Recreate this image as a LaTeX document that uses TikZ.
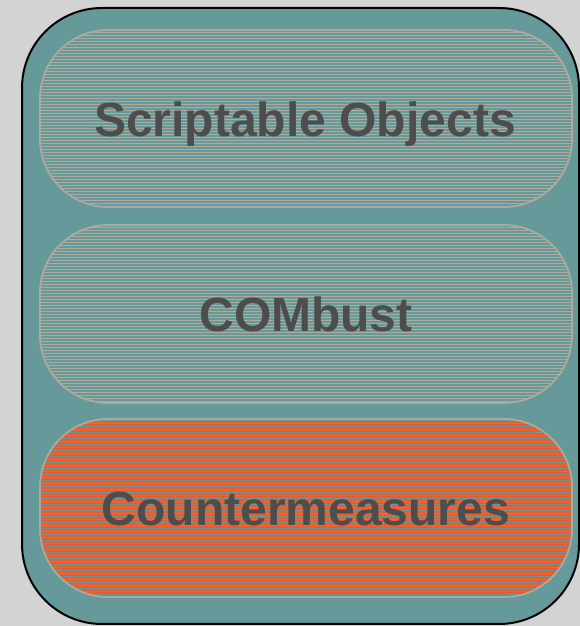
\documentclass[tikz,border=0pt]{standalone}
\usepackage{fontspec}
\setmainfont{Liberation Sans}
\definecolor{bgray}{HTML}{D3D3D3}
\definecolor{teal}{HTML}{669999}
\definecolor{tan}{HTML}{B3AA9C}
\definecolor{rim}{HTML}{ADA99E}
\definecolor{flame}{HTML}{F05A28}
\definecolor{ink}{HTML}{4D4D4D}
\tikzset{
  outerbox/.style={draw=black, line width=2pt, fill=teal, rounded corners=80pt},
  layerbox/.style={draw=rim, line width=1.8pt, rounded corners=68pt},
  layertext/.style={text=ink, font=\fontsize{48}{52}\selectfont\bfseries, anchor=base, inner sep=0pt},
}
% horizontal hatching clipped to a rounded layer box
\newcommand{\hatchlayer}[6]{% x0,y0,x1,y1,colour,line width
  \begin{scope}
    \clip[rounded corners=68pt] (#1,#2) rectangle (#3,#4);
    \fill[teal] (#1,#2) rectangle (#3,#4);
    \foreach \yy in {#2,...,#4}{
      \pgfmathparse{mod(\yy,3)==0}
      \ifnum\pgfmathresult=1
        \draw[#5, line width=#6] (#1,\yy) -- (#3,\yy);
      \fi
    }
  \end{scope}
  \draw[layerbox] (#1,#2) rectangle (#3,#4);
}
\begin{document}
\begin{tikzpicture}[x=1pt,y=1pt]
  \fill[bgray] (0,0) rectangle (580,626);
  \useasboundingbox (0,0) rectangle (580,626);
  \draw[outerbox] (22,2) rectangle (579,618);
  \hatchlayer{40}{419}{572}{596}{tan}{0.75pt}
  \hatchlayer{40}{223}{572}{401}{tan}{0.75pt}
  \hatchlayer{40}{29}{572}{207}{flame}{1.35pt}
  \node[layertext] (so) at (305,489) {Scriptable Objects};
  \node[layertext] (cb) at (306,294) {COMbust};
  \node[layertext] (cm) at (306,100) {Countermeasures};
\end{tikzpicture}
\end{document}
